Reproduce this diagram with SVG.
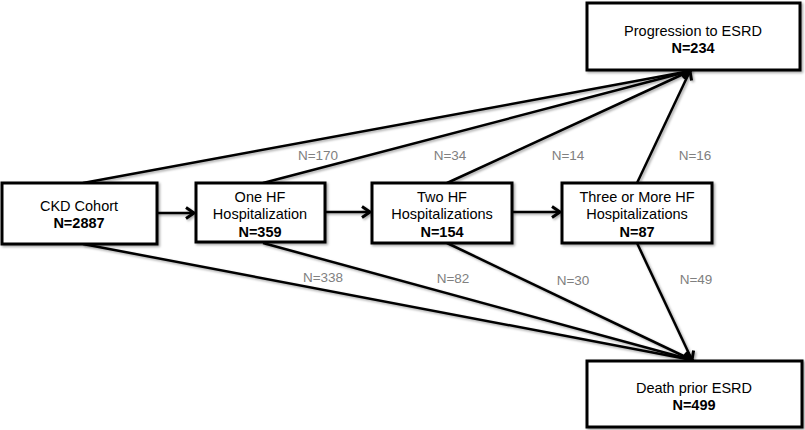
<svg xmlns="http://www.w3.org/2000/svg" width="805" height="430" viewBox="0 0 805 430">
<defs>
<filter id="sh" x="-10%" y="-10%" width="130%" height="130%">
<feDropShadow dx="1.5" dy="1.5" stdDeviation="1" flood-color="#000" flood-opacity="0.35"/>
</filter>
<marker id="ah" viewBox="0 0 14 14" refX="11" refY="7" markerWidth="14" markerHeight="14" markerUnits="userSpaceOnUse" orient="auto">
<path d="M3,1.5 L11,7 L3,12.5" fill="none" stroke="#000" stroke-width="3" stroke-linejoin="miter"/>
</marker>
</defs>
<style>
.box{fill:#fff;stroke:#000;stroke-width:3;filter:url(#sh)}
.t{font-family:"Liberation Sans",Arial,sans-serif;font-size:14.5px;text-anchor:middle;fill:#000}
.b{font-weight:bold}
.lbl{font-family:"Liberation Sans",Arial,sans-serif;font-size:13.5px;text-anchor:middle;fill:#808080}
.c line{stroke:#000;stroke-width:2.5;marker-end:url(#ah)}
</style>
<rect width="805" height="430" fill="#fff"/>
<g class="c" id="connectors" filter="url(#sh)">
<line x1="83" y1="183" x2="690" y2="71"/>
<line x1="263" y1="183" x2="690" y2="71"/>
<line x1="447" y1="183" x2="690" y2="71"/>
<line x1="637" y1="183" x2="690" y2="71"/>
<line x1="83" y1="244" x2="692" y2="360"/>
<line x1="263" y1="243" x2="692" y2="360"/>
<line x1="447" y1="243" x2="692" y2="360"/>
<line x1="637" y1="243" x2="692" y2="360"/>
<line x1="157" y1="213" x2="194" y2="213"/>
<line x1="325" y1="212" x2="370" y2="212"/>
<line x1="512" y1="212" x2="560" y2="212"/>
</g>
<g id="labels">
<text class="lbl" x="318" y="160">N=170</text>
<text class="lbl" x="450" y="160">N=34</text>
<text class="lbl" x="568" y="160">N=14</text>
<text class="lbl" x="695" y="160">N=16</text>
<text class="lbl" x="323" y="282">N=338</text>
<text class="lbl" x="453" y="283">N=82</text>
<text class="lbl" x="573" y="285">N=30</text>
<text class="lbl" x="696" y="284">N=49</text>
</g>
<g id="ckd">
<rect class="box" x="2" y="183" width="155" height="61"/>
<text class="t" x="79" y="211">CKD Cohort</text>
<text class="t b" x="79" y="228">N=2887</text>
</g>
<g id="one">
<rect class="box" x="196" y="183" width="129" height="59"/>
<text class="t" x="260" y="202">One HF</text>
<text class="t" x="260" y="219">Hospitalization</text>
<text class="t b" x="260" y="237">N=359</text>
</g>
<g id="two">
<rect class="box" x="372" y="183" width="140" height="60"/>
<text class="t" x="442" y="202">Two HF</text>
<text class="t" x="442" y="219">Hospitalizations</text>
<text class="t b" x="442" y="237">N=154</text>
</g>
<g id="three">
<rect class="box" x="562" y="183" width="150" height="60"/>
<text class="t" x="637" y="202">Three or More HF</text>
<text class="t" x="637" y="219">Hospitalizations</text>
<text class="t b" x="637" y="237">N=87</text>
</g>
<g id="esrd">
<rect class="box" x="587" y="3" width="213" height="67"/>
<text class="t" x="693" y="36">Progression to ESRD</text>
<text class="t b" x="693" y="53">N=234</text>
</g>
<g id="death">
<rect class="box" x="587" y="361" width="215" height="66"/>
<text class="t" x="694" y="393">Death prior ESRD</text>
<text class="t b" x="694" y="410">N=499</text>
</g>
</svg>
